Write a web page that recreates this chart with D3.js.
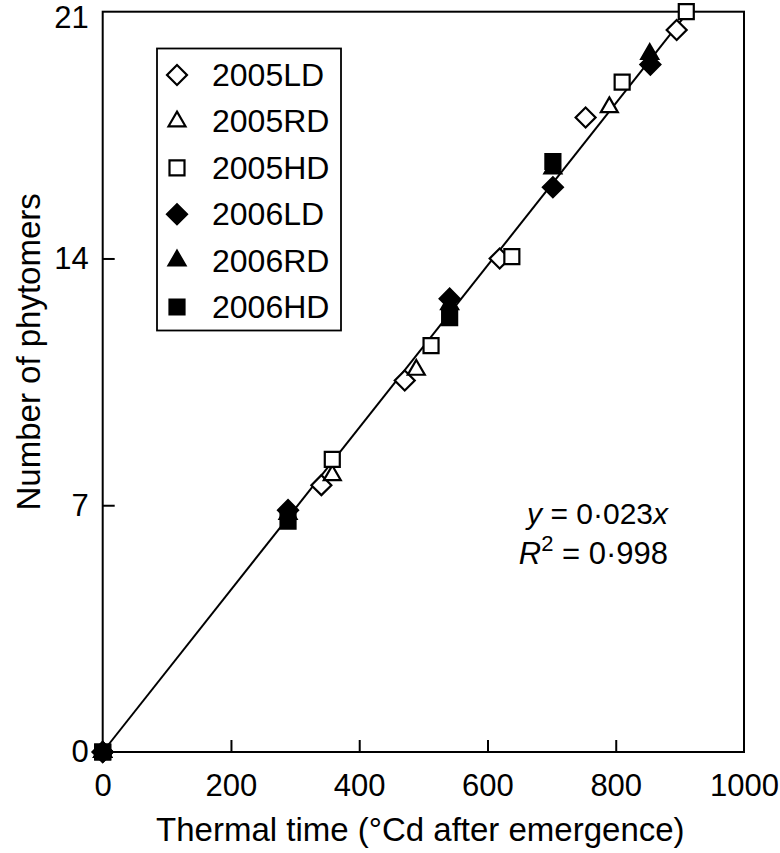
<!DOCTYPE html>
<html><head><meta charset="utf-8">
<script src="https://cdn.jsdelivr.net/npm/d3@7"></script>
<style>
body{margin:0;background:#fff;}
text{font-family:"Liberation Sans",Arial,Helvetica,sans-serif;fill:#000;}
</style></head>
<body><svg id="c" width="780" height="853"></svg>
<script>
// ---- data ----
const seriesNames = ["2005LD","2005RD","2005HD","2006LD","2006RD","2006HD"];
const ld2005_x = [0, 341, 471, 619, 753, 895];
const ld2005_y = [0, 7.57, 10.54, 14.0, 18.0, 20.48];
const rd2005_x = [0, 358, 489, 790];
const rd2005_y = [0, 7.85, 10.84, 18.29];
const hd2005_x = [0, 358, 512, 638, 810, 910];
const hd2005_y = [0, 8.3, 11.53, 14.05, 19.0, 21.0];
const ld2006_x = [0, 289, 541, 702, 854];
const ld2006_y = [0, 6.86, 12.86, 16.02, 19.5];
const rd2006_x = [0, 289, 541, 702, 853];
const rd2006_y = [0, 6.75, 12.7, 16.55, 19.8];
const hd2006_x = [0, 289, 541, 702];
const hd2006_y = [0, 6.55, 12.32, 16.75];
const xTicks = [0, 200, 400, 600, 800, 1000];
const yTicks = [0, 7, 14, 21];
const slope = 0.023;

// ---- layout ----
const svg = d3.select("#c");
const L = 102.7, R = 744, T = 11.7, B = 752;
const x = d3.scaleLinear().domain([0, 1000]).range([L, R]);
const y = d3.scaleLinear().domain([0, 21]).range([B, T]);

// frame
svg.append("rect").attr("x", L).attr("y", T).attr("width", R - L).attr("height", B - T)
  .attr("fill", "none").attr("stroke", "#000").attr("stroke-width", 2);

// axes (ticks inward)
const xAxis = d3.axisBottom(x).tickValues(xTicks).tickSize(-12).tickPadding(22).tickFormat(d3.format("d"));
const gx = svg.append("g").attr("transform", `translate(0,${B})`).call(xAxis);
gx.select(".domain").remove();
gx.selectAll("line").attr("stroke", "#000").attr("stroke-width", 2)
  .filter(d => d === 0 || d === 1000).remove();
gx.selectAll("text").attr("font-size", 31).attr("font-family", "Liberation Sans, Arial, sans-serif");

const yAxis = d3.axisLeft(y).tickValues(yTicks).tickSize(-12).tickPadding(14).tickFormat(d3.format("d"));
const gy = svg.append("g").attr("transform", `translate(${L},0)`).call(yAxis);
gy.select(".domain").remove();
gy.selectAll("line").attr("stroke", "#000").attr("stroke-width", 2)
  .filter(d => d === 0 || d === 21).remove();
gy.selectAll("text").attr("font-size", 31).attr("font-family", "Liberation Sans, Arial, sans-serif");
gy.selectAll(".tick").filter(d => d === 21).select("text").attr("dy", "0.52em");

// axis titles
svg.append("text").attr("x", (L + R) / 2 - 3).attr("y", 841).attr("text-anchor", "middle")
  .attr("font-size", 33).text("Thermal time (°Cd after emergence)");
svg.append("text").attr("transform", `translate(40,${(T + B) / 2 - 30}) rotate(-90)`)
  .attr("text-anchor", "middle").attr("font-size", 33).text("Number of phytomers");

// regression line
svg.append("line").attr("x1", x(0)).attr("y1", y(0))
  .attr("x2", x(21 / slope)).attr("y2", y(21))
  .attr("stroke", "#000").attr("stroke-width", 2);

// symbols
const shapes = [
  {type: d3.symbolSquare, size: 200, rot: 45, fill: "#fff"},
  {type: d3.symbolTriangle, size: 125, rot: 0, fill: "#fff"},
  {type: d3.symbolSquare, size: 225, rot: 0, fill: "#fff"},
  {type: d3.symbolSquare, size: 200, rot: 45, fill: "#000"},
  {type: d3.symbolTriangle, size: 125, rot: 0, fill: "#000"},
  {type: d3.symbolSquare, size: 225, rot: 0, fill: "#000"}
];
const xs = [ld2005_x, rd2005_x, hd2005_x, ld2006_x, rd2006_x, hd2006_x];
const ys = [ld2005_y, rd2005_y, hd2005_y, ld2006_y, rd2006_y, hd2006_y];

xs.forEach((xa, i) => {
  const sh = shapes[i];
  const pts = xa.map((v, j) => [v, ys[i][j]]);
  svg.append("g").selectAll("path").data(pts).join("path")
    .attr("d", d3.symbol(sh.type, sh.size)())
    .attr("transform", d => `translate(${x(d[0])},${y(d[1])}) rotate(${sh.rot})`)
    .attr("fill", sh.fill).attr("stroke", "#000").attr("stroke-width", 2.2);
});

// legend
const lg = svg.append("g");
lg.append("rect").attr("x", 157).attr("y", 48.5).attr("width", 184).attr("height", 282)
  .attr("fill", "#fff").attr("stroke", "#000").attr("stroke-width", 1.8);
seriesNames.forEach((name, i) => {
  const cy = 75 + i * 46.4;
  const sh = shapes[i];
  lg.append("path").attr("d", d3.symbol(sh.type, sh.size)())
    .attr("transform", `translate(177,${cy}) rotate(${sh.rot})`)
    .attr("fill", sh.fill).attr("stroke", "#000").attr("stroke-width", 2.2);
  lg.append("text").attr("x", 212).attr("y", cy + 11).attr("font-size", 32).text(name);
});

// equation
const eq = svg.append("g");
const t1 = eq.append("text").attr("x", 668).attr("y", 524).attr("text-anchor", "end").attr("font-size", 30);
t1.append("tspan").attr("font-style", "italic").text("y");
t1.append("tspan").text(" = 0·023");
t1.append("tspan").attr("font-style", "italic").text("x");
const t2 = eq.append("text").attr("x", 668).attr("y", 564).attr("text-anchor", "end").attr("font-size", 31);
t2.append("tspan").attr("font-style", "italic").text("R");
t2.append("tspan").attr("font-size", 22).attr("dy", -13).text("2");
t2.append("tspan").attr("dy", 13).text(" = 0·998");
</script></body></html>
